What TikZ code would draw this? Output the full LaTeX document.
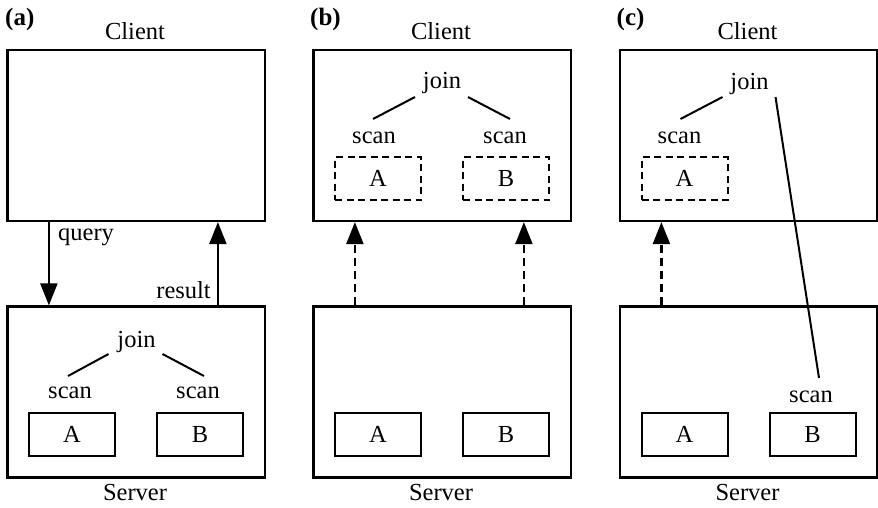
\documentclass[tikz,border=0pt]{standalone}
\usepackage{fontspec}
\setmainfont{Liberation Serif}
\usetikzlibrary{arrows.meta,calc}
\begin{document}
\begin{tikzpicture}[x=1pt,y=-1pt,
  txt/.style={font=\fontsize{24.5}{28}\selectfont, inner sep=0pt},
  tag/.style={font=\fontsize{25}{28}\selectfont\bfseries, inner sep=0pt, anchor=base west},
  bigbox/.style={draw, line width=2.2pt, minimum width=257.5pt, minimum height=171pt, inner sep=0pt},
  tbl/.style={draw, line width=2pt, minimum width=86pt, minimum height=43pt, inner sep=0pt,
    font=\fontsize{24.5}{28}\selectfont},
  dtbl/.style={tbl, dash pattern=on 7pt off 4.5pt},
  edge/.style={line width=2pt},
  arr/.style={line width=2.2pt, -{Triangle[length=22pt,width=17pt]}},
  darr/.style={arr, dash pattern=on 8pt off 5pt}
]
\useasboundingbox (0,0) rectangle (878,507);

% ---------- (a) the query is shipped to the server ----------
\node[tag] (tagA) at (5,25) {(a)};
\node[bigbox] (cliA) at (136.25,135.5) {};
\node[txt, anchor=base] (cliAname) at (135,39) {Client};
\node[bigbox] (srvA) at (136.25,392) {};
\node[txt, anchor=base] (srvAname) at (135,500) {Server};
\node[txt, anchor=base] (joinA) at (136.5,347) {join};
\node[txt, anchor=base] (scanA1) at (70,398) {scan};
\node[txt, anchor=base] (scanA2) at (198,398) {scan};
\node[tbl] (tabA1) at (72,434.5) {A};
\node[tbl] (tabA2) at (200,434.5) {B};
\draw[edge] ($(joinA.base)+(-28,7)$) -- ($(scanA1.base)+(-2,-22)$);
\draw[edge] ($(joinA.base)+(26,7)$) -- ($(scanA2.base)+(6,-22)$);
\draw[arr] ($(cliA.south west)+(42.5,0)$) -- ($(srvA.north west)+(42.5,0)$);
\draw[arr] ($(srvA.north west)+(211.5,0)$) -- ($(cliA.south west)+(211.5,0)$);
\node[txt, anchor=base west] (qryA) at (58,240) {query};
\node[txt, anchor=base east] (resA) at (211,298) {result};

% ---------- (b) both tables are fetched by the client ----------
\begin{scope}[shift={(306,0)}]
\node[tag] (tagB) at (4,25) {(b)};
\node[bigbox] (cliB) at (136.25,135.5) {};
\node[txt, anchor=base] (cliBname) at (135,39) {Client};
\node[bigbox] (srvB) at (136.25,392) {};
\node[txt, anchor=base] (srvBname) at (135,500) {Server};
\node[txt, anchor=base] (joinB) at (136,88) {join};
\node[txt, anchor=base] (scanB1) at (68,143) {scan};
\node[txt, anchor=base] (scanB2) at (199,143) {scan};
\node[dtbl] (ctabB1) at (72,178.5) {A};
\node[dtbl] (ctabB2) at (200,178.5) {B};
\node[tbl] (tabB1) at (72,434.5) {A};
\node[tbl] (tabB2) at (200,434.5) {B};
\draw[edge] ($(joinB.base)+(-27,9)$) -- ($(scanB1.base)+(-1,-24)$);
\draw[edge] ($(joinB.base)+(26,9)$) -- ($(scanB2.base)+(5,-24)$);
\draw[darr] ($(srvB.north west)+(42.5,0)$) -- ($(cliB.south west)+(42.5,0)$);
\draw[darr] ($(srvB.north west)+(211.5,0)$) -- ($(cliB.south west)+(211.5,0)$);
\end{scope}

% ---------- (c) one table fetched, the other scanned remotely ----------
\begin{scope}[shift={(612.5,0)}]
\node[tag] (tagC) at (4,25) {(c)};
\node[bigbox] (cliC) at (136.25,135.5) {};
\node[txt, anchor=base] (cliCname) at (135,39) {Client};
\node[bigbox] (srvC) at (136.25,392) {};
\node[txt, anchor=base] (srvCname) at (135,500) {Server};
\node[txt, anchor=base] (joinC) at (137,89) {join};
\node[txt, anchor=base] (scanC1) at (67,143) {scan};
\node[txt, anchor=base] (scanC2) at (198.5,402) {scan};
\node[dtbl] (ctabC1) at (72,178.5) {A};
\node[tbl] (tabC1) at (72,434.5) {A};
\node[tbl] (tabC2) at (200,434.5) {B};
\draw[edge] ($(joinC.base)+(-27,8)$) -- ($(scanC1.base)+(1,-24)$);
\draw[edge] ($(joinC.base)+(26,8)$) -- ($(scanC2.base)+(8,-24)$);
\draw[darr] ($(srvC.north west)+(42.5,0)$) -- ($(cliC.south west)+(42.5,0)$);
\end{scope}
\end{tikzpicture}
\end{document}
